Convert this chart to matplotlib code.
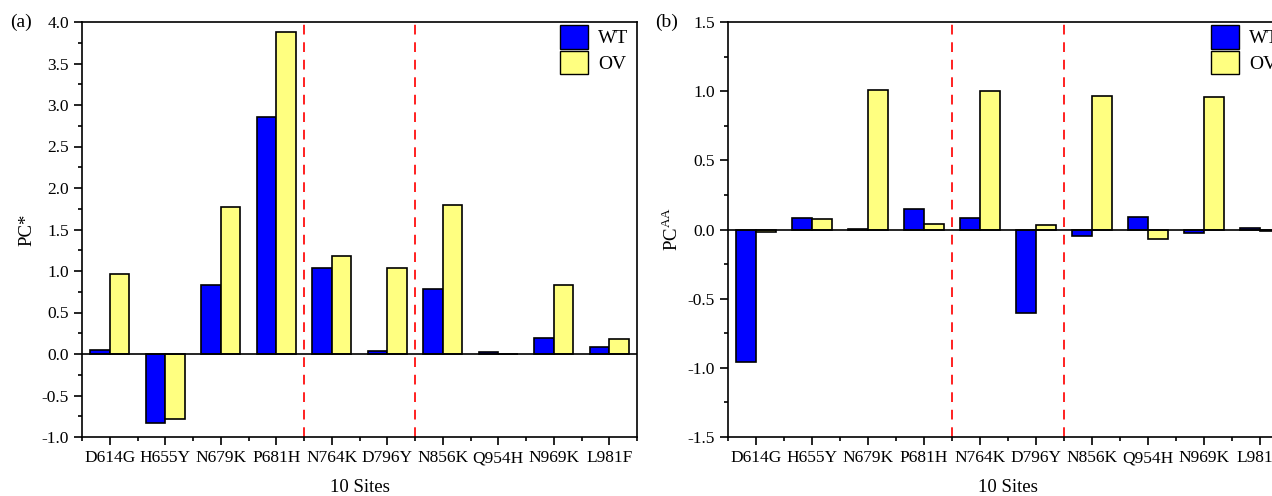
import numpy as np
import matplotlib
matplotlib.use("Agg")
import matplotlib.pyplot as plt
from matplotlib.ticker import MultipleLocator, FixedLocator, FormatStrFormatter
from matplotlib.patches import Patch

plt.rcParams['font.family'] = ['Liberation Serif', 'DejaVu Serif']
plt.rcParams['mathtext.fontset'] = 'custom'
plt.rcParams['mathtext.rm'] = 'Liberation Serif'

sites = ["D614G", "H655Y", "N679K", "P681H", "N764K",
         "D796Y", "N856K", "Q954H", "N969K", "L981F"]

pc_wt = [0.05, -0.83, 0.83, 2.86, 1.04, 0.04, 0.78, 0.02, 0.19, 0.09]
pc_ov = [0.96, -0.78, 1.77, 3.88, 1.18, 1.04, 1.80, 0.0, 0.83, 0.18]

pcaa_wt = [-0.96, 0.085, 0.005, 0.15, 0.08, -0.60, -0.045, 0.09, -0.025, 0.01]
pcaa_ov = [-0.02, 0.075, 1.01, 0.04, 1.00, 0.03, 0.965, -0.07, 0.955, -0.01]

W, H = 1272, 496
fig = plt.figure(figsize=(W / 100, H / 100), dpi=100)


def px_axes(x0, y0, x1, y1):
    # pixel box -> figure fraction
    return fig.add_axes([x0 / W, 1 - y1 / H, (x1 - x0) / W, (y1 - y0) / H])


def draw_panel(ax, wt, ov, ylim, ylabel, tag, width_px):
    x = np.arange(1, len(sites) + 1)
    w = 0.35
    ax.bar(x - w / 2, wt, w, color="#0000ff", edgecolor="black", linewidth=1.2, zorder=3)
    ax.bar(x + w / 2, ov, w, color="#ffff80", edgecolor="black", linewidth=1.2, zorder=3)
    ax.axhline(0, color="black", linewidth=1.2, zorder=4)
    for xv in (4.5, 6.5):
        ax.axvline(xv, color="#ff2020", linestyle=(0, (5, 4)), linewidth=1.4, zorder=2)
    ax.set_xlim(0.5, 10.5)
    ax.set_ylim(*ylim)
    ax.set_xticks(x)
    ax.set_xticklabels(sites, fontsize=12.5)
    ax.xaxis.set_minor_locator(FixedLocator(np.arange(0.5, 11, 1)))
    ax.yaxis.set_major_locator(MultipleLocator(0.5))
    ax.yaxis.set_minor_locator(MultipleLocator(0.25))
    ax.yaxis.set_major_formatter(FormatStrFormatter('%.1f'))
    ax.tick_params(which="major", direction="out", length=6, width=1.2, labelsize=12.5)
    ax.tick_params(which="minor", direction="out", length=3, width=1.2)
    for s in ax.spines.values():
        s.set_linewidth(1.2)
    ax.set_xlabel("10 Sites", fontsize=13.5, labelpad=9)
    ax.set_ylabel(ylabel, fontsize=13.5, labelpad=4)
    handles = [Patch(facecolor="#0000ff", edgecolor="black", label="WT"),
               Patch(facecolor="#ffff80", edgecolor="black", label="OV")]
    ax.legend(handles=handles, loc="upper right", frameon=False, fontsize=14,
              bbox_to_anchor=(1 - 6 / width_px, 1),
              handlelength=1.45, handleheight=1.5, handletextpad=0.5,
              labelspacing=0.1, borderaxespad=0.05, borderpad=0.1)
    ax.text(-0.13, 1.0, tag, transform=ax.transAxes, fontsize=14, va="center", ha="left")


ax1 = px_axes(82, 22, 637, 437)
draw_panel(ax1, pc_wt, pc_ov, (-1.0, 4.0), "PC*", "(a)", 555)

ax2 = px_axes(728, 22, 1288, 437)
draw_panel(ax2, pcaa_wt, pcaa_ov, (-1.5, 1.5), "PC$^{\\mathrm{AA}}$", "(b)", 560)

fig.savefig("out.png", dpi=100)
